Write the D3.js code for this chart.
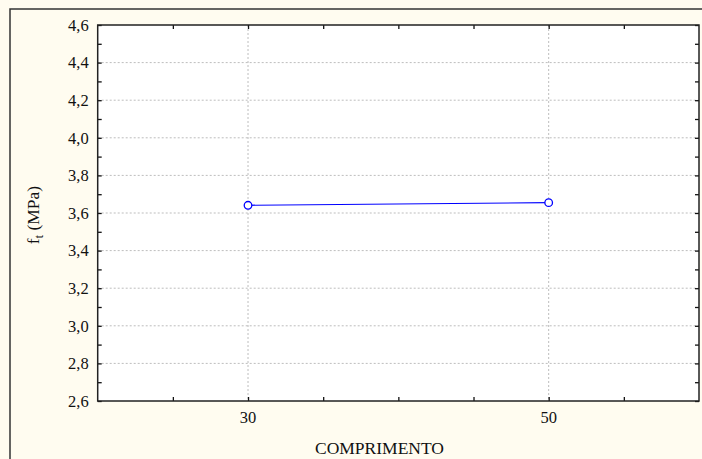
<!DOCTYPE html>
<html><head><meta charset="utf-8">
<script src="https://cdn.jsdelivr.net/npm/d3@7"></script>
<style>body{margin:0;background:#fffcf0;}svg{display:block;}</style>
</head><body>
<script>
const categories = [30, 50];
const values = [3.641, 3.655];
const yTicks = [2.6, 2.8, 3.0, 3.2, 3.4, 3.6, 3.8, 4.0, 4.2, 4.4, 4.6];
const yMinorTicks = [2.7, 2.9, 3.1, 3.3, 3.5, 3.7, 3.9, 4.1, 4.3, 4.5];
const xTicks = [25, 30, 35, 40, 45, 50, 55];
const xLabels = [30, 50];
const xTitle = "COMPRIMENTO";

const W = 702, H = 459;
const L = 97.7, R = 699, T = 25, B = 401;
const svg = d3.select("body").append("svg").attr("width", W).attr("height", H);
svg.append("rect").attr("width", W).attr("height", H).attr("fill", "#fffcf0");
svg.append("rect").attr("x", 10).attr("y", 9).attr("width", W).attr("height", H)
  .attr("fill", "none").attr("stroke", "#333").attr("stroke-width", 1.5);

const x = d3.scaleLinear().domain([20, 60]).range([L, R]);
const y = d3.scaleLinear().domain([2.6, 4.6]).range([B, T]);

svg.append("rect").attr("x", L).attr("y", T).attr("width", R - L).attr("height", B - T).attr("fill", "#fff");

// grid
const g = svg.append("g");
g.selectAll(".hg").data(yTicks.slice(1, -1)).join("line")
  .attr("x1", L).attr("x2", R).attr("y1", d => y(d)).attr("y2", d => y(d))
  .attr("stroke", "#bdbdbd").attr("stroke-dasharray", "2,2");
g.selectAll(".vg").data(xLabels).join("line")
  .attr("y1", T).attr("y2", B).attr("x1", d => x(d)).attr("x2", d => x(d))
  .attr("stroke", "#bdbdbd").attr("stroke-dasharray", "2,2");

const font = "'Liberation Serif','Times New Roman',serif";
// axes with inward ticks
const yAll = yTicks.concat(yMinorTicks);
svg.append("g").attr("transform", `translate(${L},0)`)
  .call(d3.axisRight(y).tickValues(yAll).tickSize(4).tickFormat(""))
  .call(a => a.select(".domain").remove());
svg.append("g").attr("transform", `translate(${R},0)`)
  .call(d3.axisLeft(y).tickValues(yAll).tickSize(4).tickFormat(""))
  .call(a => a.select(".domain").remove());
svg.append("g").attr("transform", `translate(0,${B})`)
  .call(d3.axisTop(x).tickValues(xTicks).tickSize(4).tickFormat(""))
  .call(a => a.select(".domain").remove());
svg.append("g").attr("transform", `translate(0,${T})`)
  .call(d3.axisBottom(x).tickValues(xTicks).tickSize(4).tickFormat(""))
  .call(a => a.select(".domain").remove());
svg.selectAll(".tick line").attr("stroke", "#111").attr("stroke-width", 1.3);

// tick labels
svg.append("g").selectAll("text").data(yTicks).join("text")
  .attr("x", L - 9).attr("y", d => y(d)).attr("dy", "0.35em")
  .attr("text-anchor", "end").attr("font-family", font).attr("font-size", 16.5)
  .attr("fill", "#111").text(d => d3.format(".1f")(d).replace(".", ","));
svg.append("g").selectAll("text").data(xLabels).join("text")
  .attr("x", d => x(d)).attr("y", 423)
  .attr("text-anchor", "middle").attr("font-family", font).attr("font-size", 16.5)
  .attr("fill", "#111").text(d => d);

// frame
svg.append("rect").attr("x", L).attr("y", T).attr("width", R - L).attr("height", B - T)
  .attr("fill", "none").attr("stroke", "#222").attr("stroke-width", 1.5);

// titles
svg.append("text").attr("x", 379.5).attr("y", 454).attr("text-anchor", "middle")
  .attr("font-family", font).attr("font-size", 17.5).attr("fill", "#111").text(xTitle);
const yt = svg.append("text").attr("transform", `translate(39,215) rotate(-90)`)
  .attr("text-anchor", "middle").attr("font-family", font).attr("font-size", 17.5).attr("fill", "#111");
yt.append("tspan").text("f");
yt.append("tspan").attr("font-size", 12).attr("dy", 4).text("t");
yt.append("tspan").attr("dy", -4).text(" (MPa)");

// data
const pts = categories.map((c, i) => ({c, v: values[i]}));
svg.append("path").datum(pts)
  .attr("d", d3.line().x(d => x(d.c)).y(d => y(d.v)))
  .attr("fill", "none").attr("stroke", "#0000ff").attr("stroke-width", 1.2);
svg.selectAll(".pt").data(pts).join("circle")
  .attr("cx", d => x(d.c)).attr("cy", d => y(d.v)).attr("r", 3.8)
  .attr("fill", "#fff").attr("stroke", "#0000ff").attr("stroke-width", 1.3);
</script>
</body></html>
